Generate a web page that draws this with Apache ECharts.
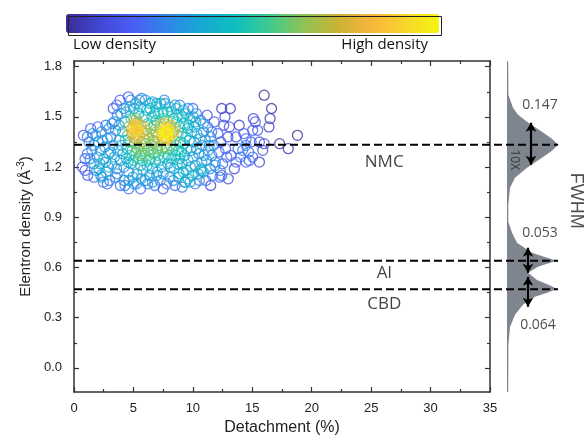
<!DOCTYPE html>
<html>
<head>
<meta charset="utf-8">
<script src="https://cdn.jsdelivr.net/npm/echarts@6/dist/echarts.min.js"></script>
<style>
  html, body { margin: 0; padding: 0; background: #fff; }
  #chart { width: 585px; height: 442px; }
</style>
</head>
<body>
<div id="chart"></div>
<script>
// scatter points: [detachment %, electron density]
var outerPoints = [
  [0.7,1.20],[0.79,1.39],[0.93,1.25],[0.93,1.18],[1.12,1.38],[1.12,1.28],[1.15,1.15],[1.26,1.35],
  [1.4,1.43],[1.68,1.22],[1.68,1.14],[1.82,1.39],[1.96,1.26],[2.1,1.19],[2.25,1.15],[2.47,1.11],
  [2.67,1.45],[2.67,1.23],[2.8,1.37],[2.8,1.10],[2.94,1.43],[3.09,1.29],[3.37,1.47],[3.64,1.51],
  [3.64,1.16],[3.87,1.60],[4.2,1.55],[4.29,1.09],[4.57,1.62],[4.63,1.12],[4.77,1.60],[5.05,1.55],
  [5.05,1.10],[5.27,1.10],[5.6,1.56],[5.69,1.61],[6.4,1.58],[6.8,1.52],[6.96,1.58],[6.96,1.15],
  [7.66,1.58],[7.8,1.10],[8.08,1.14],[8.5,1.57],[8.78,1.14],[9.2,1.54],[9.34,1.11],[9.76,1.11],
  [10.04,1.50],[10.74,1.18],[10.88,1.46],[10.88,1.17],[11.58,1.41],[11.86,1.21],[12.28,1.14],[12.43,1.55],
  [12.43,1.15],[12.98,1.13],[13.15,1.55],[13.07,1.44],[13.2,1.27],[13.49,1.19],[13.63,1.38],[13.63,1.23],
  [14.19,1.30],[14.47,1.37],[14.47,1.33],[14.47,1.23],[14.75,1.24],[15.03,1.42],[15.03,1.26],[15.09,1.49],
  [15.25,1.47],[15.45,1.42],[15.6,1.35],[15.6,1.23],[15.88,1.30],[16.0,1.63],[16.0,1.34],[16.4,1.44],
  [16.5,1.49],[16.62,1.55],[17.3,1.34],[18.03,1.31],[18.8,1.39],
  [1.5,1.30],[1.7,1.33],[1.9,1.18],[2.0,1.44],[2.2,1.22],[1.35,1.25],[1.55,1.40],[2.35,1.14],[2.05,1.35],
  [5.2,1.58],[6.0,1.60],[6.9,1.56],[7.3,1.58],[8.0,1.56],[8.9,1.57],[9.6,1.55],[10.0,1.55],[3.6,1.57],
  [5.5,1.60],[7.6,1.60],[6.6,1.59],
  [3.0,1.12],[3.9,1.09],[5.6,1.07],[6.0,1.12],[6.8,1.09],[7.5,1.07],[8.5,1.09],[9.1,1.08],[10.2,1.10],
  [11.1,1.12],[11.5,1.09],[4.6,1.07]
];
var corePoints = [
  [2.2,1.30],[2.4,1.36],[2.5,1.25],[2.6,1.32],[2.9,1.20],[2.3,1.41],[2.7,1.17],[2.9,1.28],
  [3.1,1.38],[3.2,1.22],[3.3,1.33],[3.4,1.26],[3.5,1.42],[3.6,1.19],[3.7,1.30],[3.8,1.36],[3.9,1.24],
  [3.2,1.46],[3.5,1.14],[3.8,1.45],[3.95,1.52],[3.3,1.55],
  [4.0,1.33],[4.1,1.28],[4.1,1.41],[4.2,1.20],[4.3,1.36],[4.3,1.47],[4.4,1.25],[4.5,1.31],[4.5,1.39],
  [4.6,1.44],[4.6,1.17],[4.7,1.27],[4.7,1.35],[4.8,1.22],[4.8,1.49],[4.9,1.30],[4.9,1.40],[4.95,1.14],
  [4.4,1.53],[4.7,1.56],[4.2,1.12],[4.85,1.43],[4.55,1.23],
  [5.0,1.44],[5.1,1.46],[5.15,1.43],[5.2,1.45],[5.25,1.42],[5.3,1.44],[5.1,1.41],[5.2,1.40],[5.35,1.47],
  [5.05,1.48],[5.25,1.49],[5.4,1.42],[5.0,1.38],[5.1,1.34],[5.2,1.29],[5.3,1.36],[5.4,1.25],[5.5,1.32],
  [5.5,1.39],[5.6,1.21],[5.6,1.45],[5.7,1.28],[5.7,1.35],[5.8,1.41],[5.8,1.18],[5.9,1.31],[5.9,1.50],
  [5.45,1.52],[5.65,1.13],[5.3,1.16],[5.0,1.24],[5.75,1.24],[5.55,1.27],[5.85,1.37],[5.95,1.44],
  [5.15,1.37],[5.35,1.31],
  [6.0,1.27],[6.05,1.34],[6.1,1.40],[6.15,1.21],[6.2,1.46],[6.25,1.30],[6.3,1.37],[6.35,1.15],[6.4,1.25],
  [6.45,1.43],[6.5,1.33],[6.55,1.50],[6.6,1.19],[6.65,1.39],[6.7,1.28],[6.75,1.45],[6.8,1.35],[6.85,1.23],
  [6.9,1.41],[6.95,1.31],[6.1,1.54],[6.4,1.55],[6.6,1.11],[6.2,1.10],[6.45,1.29],[6.7,1.36],[6.3,1.24],
  [6.9,1.48],[6.05,1.42],
  [7.0,1.38],[7.1,1.27],[7.2,1.44],[7.3,1.33],[7.4,1.20],[7.5,1.40],[7.55,1.42],[7.6,1.38],[7.65,1.43],
  [7.7,1.40],[7.75,1.41],[7.8,1.44],[7.85,1.39],[7.9,1.42],[7.95,1.40],[7.7,1.37],[7.8,1.36],[7.6,1.46],
  [7.9,1.47],[8.0,1.43],[7.45,1.36],[7.3,1.46],[7.2,1.24],[7.4,1.30],[7.6,1.26],[7.8,1.31],[7.9,1.22],
  [7.5,1.16],[7.1,1.52],[7.5,1.53],[7.85,1.53],[7.0,1.17],[7.25,1.12],[7.65,1.32],[7.35,1.40],[7.05,1.31],
  [7.95,1.27],[7.55,1.49],
  [8.05,1.38],[8.1,1.33],[8.15,1.45],[8.2,1.25],[8.25,1.40],[8.3,1.30],[8.35,1.49],[8.4,1.19],[8.45,1.36],
  [8.5,1.43],[8.55,1.27],[8.6,1.33],[8.65,1.47],[8.7,1.22],[8.75,1.39],[8.8,1.30],[8.85,1.16],[8.9,1.44],
  [8.95,1.35],[8.2,1.53],[8.6,1.55],[8.35,1.12],[8.1,1.20],[8.4,1.41],[8.75,1.51],[8.9,1.25],
  [9.0,1.29],[9.05,1.40],[9.1,1.22],[9.2,1.34],[9.25,1.46],[9.3,1.27],[9.4,1.38],[9.45,1.18],[9.5,1.31],
  [9.55,1.43],[9.6,1.24],[9.7,1.36],[9.75,1.49],[9.8,1.20],[9.85,1.30],[9.9,1.41],[9.95,1.15],[9.1,1.50],
  [9.4,1.52],[9.6,1.13],[9.35,1.11],[9.65,1.45],[9.2,1.17],
  [10.0,1.26],[10.1,1.35],[10.15,1.44],[10.2,1.21],[10.3,1.31],[10.35,1.40],[10.45,1.16],[10.5,1.28],
  [10.6,1.37],[10.65,1.48],[10.75,1.23],[10.8,1.33],[10.9,1.41],[10.95,1.27],[10.3,1.52],[10.55,1.12],
  [10.25,1.47],[10.7,1.19],
  [11.05,1.36],[11.15,1.24],[11.25,1.44],[11.3,1.30],[11.45,1.19],[11.5,1.38],[11.6,1.27],[11.75,1.33],
  [11.8,1.47],[11.9,1.23],[11.2,1.51],[11.65,1.15],[11.4,1.33],
  [12.1,1.40],[12.2,1.29],[12.35,1.35],[12.5,1.22],[12.6,1.45],[12.75,1.31],[12.85,1.26],[12.95,1.38],
  [12.3,1.18],[12.7,1.50],
  [13.8,1.31],[14.0,1.26],[14.3,1.40],[13.9,1.45],[14.7,1.29],[14.9,1.35]
];

// phase reference levels (electron density)
var levelNames = ['NMC', 'Al', 'CBD'];
var levelValues = [1.334, 0.640, 0.470];

// side density profile: [width, electron density]
var profile = [
  [1.2,1.830],[1.4,1.633],[6,1.555],[11,1.513],[20,1.471],[35,1.411],[45,1.370],[51,1.334],
  [45,1.298],[35,1.256],[20,1.196],[8,1.136],[3,1.077],[1.3,0.975],[1.3,0.873],[5,0.807],
  [10,0.748],[25,0.688],[40,0.658],[50,0.640],[40,0.622],[31,0.604],[21,0.568],[30,0.526],
  [42,0.496],[50,0.472],[40,0.449],[28,0.425],[16,0.377],[8,0.317],[3,0.245],[1.4,0.138],[1.2,-0.144]
];

// FWHM arrows: [x, from, to]
var fwhmArrows = [[24,1.465,1.214],[21,0.718,0.568],[21,0.544,0.365]];
var fwhmLabels = [['0.147',33,1.573],['0.053',33,0.807],['0.064',31,0.257]];

var yMajor = [0, 0.3, 0.6, 0.9, 1.2, 1.5, 1.8];
var yMinor = [0.15, 0.45, 0.75, 1.05, 1.35, 1.65];
var yMin = -0.144, yMax = 1.834;

var parula = ['#3b2c96','#4147d4','#4a5ef5','#2f86e8','#16a9d4','#0fbfbf','#3fca90',
              '#8fc354','#c9b334','#f8b53c','#f7d52a','#f6f610'];

var chart = echarts.init(document.getElementById('chart'));

// local point density for colouring (small gaussian kernel sum)
var allPts = outerPoints.concat(corePoints);
var sx = 11.886, sy = 167.2, sig = 6;
var scatterData = allPts.map(function (p) {
  var d = 0;
  for (var j = 0; j < allPts.length; j++) {
    var dx = (allPts[j][0] - p[0]) * sx, dy = (allPts[j][1] - p[1]) * sy;
    d += Math.exp(-(dx * dx + dy * dy) / (2 * sig * sig));
  }
  return [p[0], p[1], Math.pow(d, 0.85)];
});
scatterData.sort(function (a, b) { return a[2] - b[2]; });
var dMin = scatterData[0][2], dMax = scatterData[scatterData.length - 1][2];

var axisCol = '#333';
var txtCol = '#222';

function frameY(pos, values, len, line) {
  return {
    type: 'value', gridIndex: 0, position: pos, min: yMin, max: yMax,
    axisLine: { show: line, onZero: false, lineStyle: { color: axisCol, width: 1.5 } },
    axisTick: { show: true, inside: true, length: len, customValues: values, lineStyle: { color: axisCol, width: 1.2 } },
    axisLabel: { show: false },
    splitLine: { show: false }
  };
}

var option = {
  animation: false,
  textStyle: { fontFamily: 'Liberation Sans' },
  visualMap: {
    type: 'continuous', seriesIndex: 0, dimension: 2,
    min: dMin, max: dMax, orient: 'horizontal',
    left: 66, top: 14, itemWidth: 19, itemHeight: 373, padding: 0,
    calculable: false, text: null, showLabel: false, hoverLink: false,
    inRange: { color: parula }
  },
  graphic: [
    { type: 'rect', left: 66, top: 14, shape: { width: 373, height: 19 },
      style: { fill: 'none', stroke: '#222', lineWidth: 1 }, z: 100 },
    { type: 'text', left: 73, top: 37, style: { text: 'Low density', font: '15px "Open Sans"', fill: '#111' } },
    { type: 'text', right: 157, top: 37, style: { text: 'High density', font: '15px "Open Sans"', fill: '#111' } }
  ],
  grid: [
    { left: 74, right: 95, top: 61, bottom: 50 },
    { left: 507, width: 52, top: 61, bottom: 50 },
    { left: 74, right: 27, top: 61, bottom: 50 }
  ],
  xAxis: [
    { type: 'value', gridIndex: 0, position: 'bottom', min: 0, max: 35, interval: 5,
      name: 'Detachment (%)', nameLocation: 'middle', nameGap: 27,
      nameTextStyle: { fontSize: 16, color: txtCol },
      axisLine: { onZero: false, lineStyle: { color: axisCol, width: 1.5 } },
      axisTick: { inside: true, length: 5, lineStyle: { color: axisCol, width: 1.2 } },
      minorTick: { show: true, splitNumber: 2, length: 3, lineStyle: { color: axisCol, width: 1.2 } },
      axisLabel: { fontSize: 13, color: txtCol, margin: 10 },
      splitLine: { show: false } },
    { type: 'value', gridIndex: 0, position: 'top', min: 0, max: 35, interval: 5,
      axisLine: { onZero: false, lineStyle: { color: axisCol, width: 1.5 } },
      axisTick: { inside: true, length: 5, lineStyle: { color: axisCol, width: 1.2 } },
      minorTick: { show: true, splitNumber: 2, length: 3, lineStyle: { color: axisCol, width: 1.2 } },
      axisLabel: { show: false }, splitLine: { show: false } },
    { type: 'value', gridIndex: 1, min: 0, max: 52, show: false },
    { type: 'value', gridIndex: 2, min: 0, max: 1, show: false }
  ],
  yAxis: [
    { type: 'value', gridIndex: 0, position: 'left', min: yMin, max: yMax,
      name: 'Elentron density (Å{sup|-3})', nameLocation: 'middle', nameGap: 31,
      nameTextStyle: { fontSize: 15, color: txtCol, rich: { sup: { fontSize: 10, verticalAlign: 'top', padding: [0, 0, 8, 0] } } },
      axisLine: { onZero: false, lineStyle: { color: axisCol, width: 1.5 } },
      axisTick: { inside: true, length: 5, customValues: yMajor, lineStyle: { color: axisCol, width: 1.2 } },
      axisLabel: { customValues: yMajor, fontSize: 13, color: txtCol, margin: 12,
        formatter: function (v) { return v.toFixed(1); } },
      splitLine: { show: false } },
    frameY('right', yMajor, 5, true),
    frameY('left', yMinor, 3, false),
    frameY('right', yMinor, 3, false),
    { type: 'value', gridIndex: 1, min: yMin, max: yMax, show: false },
    { type: 'value', gridIndex: 2, min: yMin, max: yMax, show: false }
  ],
  series: [
    {
      type: 'custom', xAxisIndex: 0, yAxisIndex: 0, data: scatterData, z: 2,
      encode: { x: 0, y: 1 },
      renderItem: function (params, api) {
        var p = api.coord([api.value(0), api.value(1)]);
        return { type: 'circle', shape: { cx: p[0], cy: p[1], r: 5 },
          style: { fill: 'none', stroke: api.visual('color'), lineWidth: 1.3, opacity: 0.8 } };
      }
    },
    {
      type: 'custom', xAxisIndex: 2, yAxisIndex: 4, data: [[0, 0]], z: 1, silent: true,
      renderItem: function (params, api) {
        var pts = [api.coord([0, yMax])];
        profile.forEach(function (q) { pts.push(api.coord(q)); });
        pts.push(api.coord([0, yMin]));
        return { type: 'polygon', shape: { points: pts },
          style: { fill: '#7f858f', stroke: 'none' } };
      }
    },
    {
      type: 'line', xAxisIndex: 2, yAxisIndex: 4, data: [], silent: true,
      markLine: {
        silent: true, symbol: ['arrow', 'arrow'], symbolSize: [8, 9],
        label: { show: false },
        lineStyle: { type: 'solid', color: '#000', width: 2.2 },
        emphasis: { disabled: true },
        data: fwhmArrows.map(function (a) { return [{ coord: [a[0], a[1]] }, { coord: [a[0], a[2]] }]; })
      }
    },
    {
      type: 'scatter', xAxisIndex: 2, yAxisIndex: 4, symbolSize: 0, silent: true, clip: false, z: 5,
      data: fwhmLabels.map(function (l) { return { name: l[0], value: [l[1], l[2]] }; })
        .concat([{ name: '10X', value: [7, 1.244], label: { rotate: -90, fontSize: 12 } },
                 { name: 'FWHM', value: [69, 0.999], label: { rotate: -90, fontSize: 18, fontFamily: 'Liberation Sans' } }]),
      label: { show: true, position: 'inside', formatter: '{b}', fontSize: 14, color: '#222', fontFamily: 'Open Sans' }
    },
    {
      type: 'scatter', xAxisIndex: 0, yAxisIndex: 0, symbolSize: 0, silent: true, z: 5,
      data: [
        { name: levelNames[0], value: [26.1, 1.232] },
        { name: levelNames[1], value: [26.1, 0.568] },
        { name: levelNames[2], value: [26.1, 0.383] }
      ],
      label: { show: true, position: 'inside', formatter: '{b}', fontSize: 17, color: '#111', fontFamily: 'Open Sans' }
    }
  ].concat(levelValues.map(function (v) {
    return { type: 'line', xAxisIndex: 3, yAxisIndex: 5, symbol: 'none', silent: true, z: 4,
      data: [[0, v], [1, v]], lineStyle: { color: '#000', width: 2, type: [8, 4] } };
  }))
};

chart.setOption(option);
</script>
</body>
</html>
